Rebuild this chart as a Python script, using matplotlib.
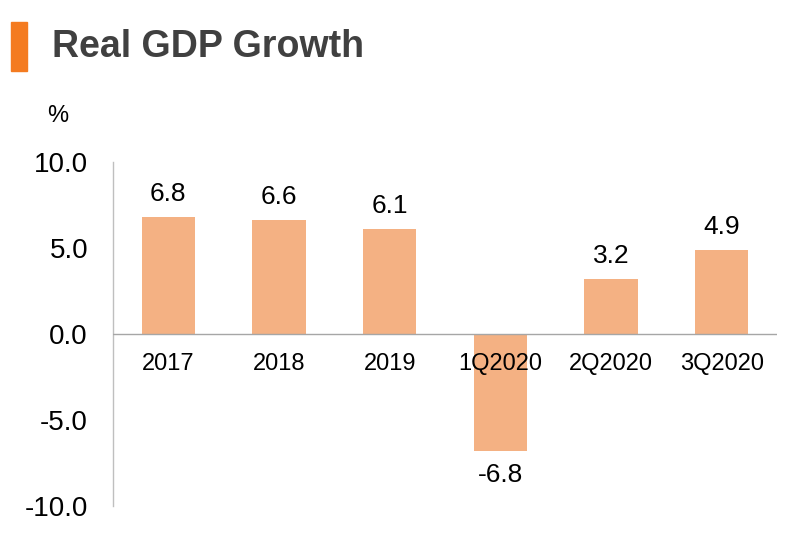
import matplotlib
matplotlib.use("Agg")
import matplotlib.pyplot as plt
from matplotlib.patches import Rectangle

categories = ["2017", "2018", "2019", "1Q2020", "2Q2020", "3Q2020"]
values = [6.8, 6.6, 6.1, -6.8, 3.2, 4.9]
yticks = [-10.0, -5.0, 0.0, 5.0, 10.0]

plt.rcParams['font.family'] = ['Liberation Sans', 'DejaVu Sans']

fig = plt.figure(figsize=(8.02, 5.47), dpi=100)
ax = fig.add_axes([113/802, 41/547, 664/802, 344/547])

x = list(range(len(categories)))
bars = ax.bar(x, values, width=0.48, color="#F4B183", zorder=2)
ax.set_xlim(-0.5, 5.5)
ax.set_ylim(-10, 10)
ax.set_yticks(yticks)
ax.set_yticklabels([f"{v:.1f}" for v in yticks], fontsize=20)
ax.tick_params(axis='y', length=0, pad=18)
ax.set_xticks([])

for s in ["top", "right", "bottom"]:
    ax.spines[s].set_visible(False)
ax.spines["left"].set_color("#BFBFBF")
ax.spines["left"].set_linewidth(1)
ax.axhline(0, color="#A6A6A6", lw=1, zorder=3)

for xi, v, c in zip(x, values, categories):
    if v >= 0:
        ax.annotate(f"{v:.1f}", (xi, v), xytext=(0, 8), textcoords="offset points",
                    ha="center", va="bottom", fontsize=19)
    else:
        ax.annotate(f"{v:.1f}", (xi, v), xytext=(0, -9), textcoords="offset points",
                    ha="center", va="top", fontsize=19)
    ax.annotate(c, (xi, 0), xytext=(0, -14), textcoords="offset points",
                ha="center", va="top", fontsize=17, zorder=4)

fig.text(47/802, 1 - 116/547, "%", fontsize=17, va="center", ha="left")
fig.patches.append(Rectangle((11/802, 1 - 71/547), 16/802, 49/547,
                             transform=fig.transFigure, color="#F47B20"))
fig.text(52/802, 1 - 47/547, "Real GDP Growth", fontsize=27, fontweight="bold",
         color="#404040", va="center", ha="left")

fig.savefig("out.png", dpi=100)
